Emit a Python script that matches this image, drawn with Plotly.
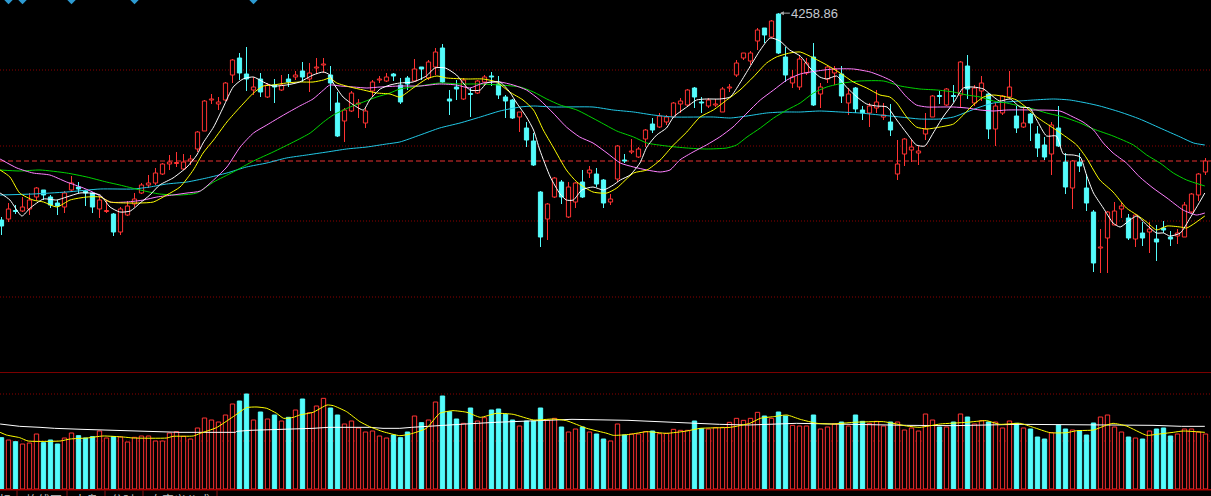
import plotly.graph_objects as go

# ---------------- data ----------------
opens = [
    4052, 4053, 4061.5, 4061, 4063, 4075, 4082, 4075, 4069, 4065,
    4082, 4085, 4081, 4079, 4063, 4060.5, 4058, 4040, 4057, 4068,
    4079, 4087, 4089, 4098, 4108, 4108.5, 4103, 4111, 4123, 4141,
    4172, 4168, 4172, 4197, 4214, 4198, 4182, 4193, 4175, 4187,
    4182, 4193, 4195, 4201, 4193, 4204, 4207, 4197, 4169, 4151,
    4161, 4168, 4149, 4181, 4192, 4191, 4198, 4187, 4194, 4191,
    4205, 4194, 4205, 4224, 4173, 4185, 4173, 4178.5, 4179, 4190,
    4196, 4188, 4175, 4172, 4155, 4144, 4131, 4080, 4053, 4075,
    4090, 4055, 4070, 4090, 4099, 4098, 4092, 4070, 4093, 4112,
    4120, 4115, 4133, 4148, 4145, 4150, 4155, 4168, 4167, 4184,
    4170, 4166, 4167, 4160, 4184, 4197, 4214, 4211, 4231, 4244,
    4235, 4258, 4215, 4189, 4185, 4199, 4215, 4178, 4193, 4199,
    4198, 4169, 4184, 4162, 4159, 4164, 4155, 4150, 4098, 4118,
    4122, 4119, 4138, 4155, 4176.5, 4167, 4176.5, 4177, 4206, 4169,
    4181, 4178, 4143, 4159, 4175, 4156, 4145, 4158, 4138, 4127,
    4118, 4144, 4110, 4084, 4110, 4084, 4060, 4024, 4034, 4047,
    4063, 4054, 4033, 4039, 4040, 4033, 4044, 4035, 4036, 4035,
    4060, 4077, 4100]
highs = [
    4055, 4069, 4067, 4075, 4079, 4085, 4082, 4077, 4072, 4081,
    4096, 4090, 4082, 4080, 4076, 4072, 4059, 4065, 4071, 4079,
    4089, 4097, 4104, 4109, 4117, 4120, 4118, 4117, 4141, 4172,
    4178, 4175, 4190, 4213, 4219, 4225, 4195, 4199, 4189, 4193,
    4197, 4198, 4201, 4210, 4209, 4214, 4214, 4206, 4180, 4164,
    4181, 4173, 4165, 4192, 4196, 4199, 4199, 4194, 4196, 4213,
    4205, 4212, 4224, 4228, 4182, 4192, 4194, 4184, 4192, 4197,
    4200, 4196, 4177, 4173, 4160, 4150, 4139, 4081, 4069, 4095,
    4092, 4090, 4090, 4102, 4106, 4104, 4093, 4078, 4127, 4118,
    4133, 4125, 4143, 4154, 4159, 4157, 4170, 4174, 4183, 4185,
    4175, 4174, 4173, 4185, 4188, 4212, 4219, 4221, 4244, 4244,
    4252, 4258.86, 4225, 4202, 4217, 4214, 4229, 4189, 4206, 4206,
    4206, 4184, 4185, 4166, 4169, 4182, 4169, 4168, 4132, 4134,
    4133, 4126, 4159, 4177, 4181, 4184, 4187, 4211, 4217, 4187,
    4196, 4179, 4169, 4177, 4201, 4166, 4164, 4159, 4146, 4135,
    4150, 4166, 4119, 4112, 4119, 4098, 4062, 4043, 4061, 4070,
    4070, 4058, 4058, 4050, 4050, 4047, 4051, 4041, 4043, 4070,
    4079, 4099, 4114]
lows = [
    4037, 4050, 4058, 4060, 4057, 4072, 4072, 4064, 4057, 4059,
    4080, 4079, 4066, 4059, 4054, 4059, 4036, 4037, 4056, 4065,
    4078, 4084, 4087, 4097, 4102, 4105, 4102, 4107, 4120, 4141,
    4168, 4162, 4171, 4189, 4192, 4181, 4177, 4175, 4174, 4169,
    4181, 4185, 4192, 4190, 4180, 4198, 4199, 4161, 4135, 4130,
    4160, 4154, 4144, 4175, 4189, 4190, 4191, 4168, 4182, 4190,
    4192, 4192, 4197, 4189, 4157, 4172, 4172, 4155, 4178, 4186,
    4186, 4173, 4154, 4153, 4140, 4125, 4106, 4025, 4032, 4074,
    4068, 4054, 4064, 4074, 4094, 4085, 4064, 4067, 4090, 4109,
    4118, 4114, 4125, 4139, 4144, 4147, 4155, 4159, 4166, 4164,
    4159, 4164, 4165, 4160, 4180, 4195, 4212, 4207, 4222, 4229,
    4234, 4218, 4190, 4184, 4182, 4197, 4166, 4164, 4189, 4187,
    4169, 4157, 4159, 4152, 4145, 4159, 4152, 4136, 4092, 4106,
    4110, 4107, 4132, 4155, 4168, 4166, 4170, 4164, 4173, 4166,
    4171, 4133, 4126, 4157, 4173, 4139, 4144, 4131, 4115, 4112,
    4097, 4125, 4078, 4063, 4100, 4061, 4000, 3999, 3999, 4047,
    4054, 4032, 4025, 4026, 4019, 4011, 4039, 4026, 4028, 4035,
    4059, 4071, 4097]
closes = [
    4046, 4063, 4060.5, 4065, 4072, 4084, 4077, 4067, 4066, 4079,
    4089, 4083, 4079, 4065, 4072, 4061.5, 4040, 4063, 4066, 4073,
    4087, 4089, 4099, 4108, 4110, 4109.5, 4110, 4113, 4140, 4171,
    4173, 4170, 4189, 4212, 4199, 4193, 4185, 4180, 4187, 4185,
    4187, 4190, 4197, 4195, 4199, 4205, 4208, 4189, 4136, 4162,
    4179, 4169, 4161, 4190, 4193, 4195, 4196, 4170, 4188, 4203,
    4203, 4210, 4220, 4190, 4171, 4183, 4192, 4177.5, 4191, 4195,
    4195, 4177, 4171, 4154, 4160, 4132, 4107, 4035, 4068, 4094,
    4075, 4085, 4089, 4075, 4102, 4088, 4069, 4073, 4126, 4111,
    4121, 4123, 4142, 4142, 4156, 4155, 4169, 4171, 4182, 4175,
    4169, 4172, 4168, 4183, 4185, 4209, 4219, 4219, 4242, 4237,
    4251, 4219, 4197, 4195, 4213, 4209, 4167, 4185, 4205, 4203,
    4176, 4178, 4163, 4159, 4166, 4170, 4157, 4142, 4108, 4133,
    4125, 4121, 4143, 4176, 4175.5, 4183, 4175.5, 4210, 4183, 4184,
    4189, 4143, 4166, 4176, 4185, 4144, 4149, 4149, 4124, 4115,
    4147, 4126, 4085, 4111, 4106, 4069, 4009, 4025, 4060, 4061,
    4066, 4034, 4057, 4034, 4043, 4030, 4042, 4033, 4039, 4067,
    4078, 4098, 4111]
volumes = [
    154, 147, 142, 135, 138, 165, 139, 147, 135, 153,
    168, 160, 153, 157, 174, 153, 157, 156, 141, 155,
    159, 159, 144, 144, 168, 172, 158, 150, 183, 213,
    207, 201, 222, 255, 264, 285, 207, 231, 210, 222,
    204, 215, 237, 270, 229, 249, 272, 243, 222, 195,
    204, 183, 171, 174, 159, 153, 162, 154, 171, 219,
    199, 207, 261, 279, 232, 210, 197, 243, 204, 214,
    237, 240, 224, 207, 189, 204, 204, 243, 207, 212,
    186, 171, 180, 186, 171, 165, 150, 144, 195, 162,
    165, 165, 172, 174, 166, 167, 179, 176, 176, 204,
    181, 180, 184, 185, 200, 212, 206, 212, 230, 219,
    212, 231, 219, 191, 189, 189, 222, 180, 186, 195,
    201, 189, 222, 203, 197, 203, 189, 201, 201, 177,
    183, 174, 225, 207, 186, 186, 201, 225, 216, 195,
    205, 201, 201, 183, 204, 197, 183, 180, 156, 150,
    169, 192, 180, 177, 174, 162, 198, 216, 222, 186,
    171, 156, 153, 150, 174, 180, 183, 159, 165, 180,
    180, 171, 165]

# moving-average lines, read as knots (candle index, price)
ma5_x = [-0.2, 1.2, 2.9, 4.1, 6.0, 7.9, 9.3, 11.2, 12.6, 14.1, 15.5, 16.9, 18.4, 19.8, 21.2, 22.6,
         24.5, 26.5, 27.9, 28.8, 30.3, 31.7, 33.1, 34.5, 36.0, 37.4, 38.8, 40.7, 42.6, 44.5, 46.0,
         46.9, 47.4, 48.8, 50.3, 51.7, 52.6, 54.1, 55.5, 56.9, 58.8, 60.7, 61.9, 63.4, 65.0, 66.9,
         68.4, 69.3, 71.2, 72.6, 73.6, 75.0, 76.0, 76.9, 78.4, 79.8, 80.7, 81.7, 82.9, 84.5, 86.0,
         87.4, 88.4, 89.8, 91.2, 92.2, 93.6, 95.0, 96.0, 97.9, 99.3, 100.7, 102.6, 104.1, 105.5,
         106.9, 108.4, 109.8, 111.2, 112.6, 114.1, 115.5, 116.9, 117.9, 119.3, 120.7, 122.2, 123.6,
         125.0, 126.5, 127.9, 129.3, 130.7, 131.9, 133.1, 134.5, 136.0, 137.4, 138.8, 140.3, 141.2,
         142.6, 144.1, 145.5, 146.9, 147.9, 149.3, 150.7, 151.7, 153.1, 154.1, 155.0, 156.0, 157.4,
         158.8, 159.8, 161.2, 162.2, 163.6, 165.0, 166.0, 166.9, 168.4, 169.8, 171.0, 171.9]
ma5 = [4079, 4072, 4056, 4064, 4073, 4072, 4075, 4079, 4079, 4077, 4065, 4060, 4061, 4069, 4077, 4087,
       4094, 4105, 4117, 4129, 4145, 4165, 4185, 4193, 4195, 4190, 4186, 4187, 4190, 4197, 4200,
       4197, 4189, 4175, 4167, 4162, 4172, 4183, 4187, 4189, 4190, 4196, 4204, 4204, 4197, 4182,
       4182, 4189, 4190, 4180, 4169, 4155, 4142, 4122, 4095, 4078, 4072, 4072, 4082, 4085, 4082,
       4087, 4092, 4097, 4109, 4125, 4137, 4144, 4155, 4165, 4172, 4173, 4173, 4175, 4189,
       4205, 4222, 4234, 4231, 4222, 4216, 4204, 4195, 4193, 4196, 4185, 4175, 4168,
       4166, 4165, 4152, 4139, 4127, 4126, 4139, 4155, 4169, 4184, 4185, 4183, 4178,
       4171, 4173, 4165, 4164, 4152, 4136, 4136, 4118, 4117, 4115, 4097, 4079, 4064,
       4049, 4045, 4052, 4056, 4047, 4039, 4039, 4036, 4039, 4054, 4068, 4079]

ma10_x = [-0.2, 1.2, 2.6, 4.5, 6.0, 7.9, 9.8, 12.2, 14.1, 15.5, 17.9, 19.8, 21.7, 23.6, 25.5, 27.4,
          28.8, 30.3, 32.2, 34.1, 36.0, 37.4, 38.8, 40.7, 42.6, 44.5, 46.0, 46.9, 47.9, 49.8, 51.7,
          53.6, 55.5, 56.9, 58.8, 60.7, 62.2, 63.6, 66.5, 68.8, 70.7, 72.6, 74.5, 76.0, 77.4, 78.8,
          80.7, 82.2, 84.5, 86.5, 87.9, 90.3, 92.2, 94.1, 96.0, 97.9, 99.8, 101.7, 103.6, 105.5,
          107.4, 109.3, 110.7, 112.6, 114.1, 116.0, 117.9, 119.8, 121.7, 123.6, 125.5, 126.9, 127.9,
          129.3, 130.7, 132.2, 134.1, 136.0, 137.4, 138.8, 140.3, 141.7, 143.6, 145.0, 146.5, 147.9,
          149.8, 151.7, 153.6, 155.0, 156.0, 156.9, 158.8, 160.7, 162.2, 163.6, 165.0, 166.5, 168.4,
          169.3, 170.3, 171.9]
ma10 = [4102, 4095, 4079, 4072, 4070, 4065, 4072, 4075, 4075, 4070, 4069, 4069, 4070, 4077, 4085, 4102,
        4119, 4132, 4150, 4165, 4179, 4186, 4187, 4189, 4190, 4190, 4192, 4194, 4189, 4185, 4182,
        4179, 4178, 4175, 4184, 4193, 4196, 4194, 4193, 4193, 4190, 4180, 4172, 4162, 4142, 4125,
        4102, 4090, 4080, 4079, 4084, 4099, 4102, 4112, 4127, 4140, 4155, 4162, 4172, 4182,
        4195, 4209, 4215, 4219, 4220, 4214, 4207, 4199, 4190, 4184, 4177, 4175, 4169,
        4155, 4145, 4143, 4145, 4148, 4157, 4167, 4175, 4177, 4175, 4172, 4164, 4155,
        4146, 4137, 4127, 4114, 4102, 4092, 4080, 4064, 4057, 4050, 4042, 4046, 4045,
        4044, 4048, 4056]

ma20_x = [-0.2, 2.2, 4.5, 6.9, 9.3, 11.7, 13.6, 15.5, 17.9, 20.3, 22.2, 24.5, 26.5, 28.4, 30.3, 32.2,
          34.1, 36.0, 37.9, 40.3, 42.6, 44.5, 46.0, 46.9, 48.4, 50.3, 52.2, 54.1, 56.9, 59.8, 62.6,
          65.0, 66.9, 68.8, 71.2, 73.1, 75.0, 76.9, 78.8, 80.7, 82.6, 84.5, 86.5, 88.4, 90.3, 92.2,
          94.1, 95.5, 96.9, 98.8, 100.7, 102.6, 104.5, 106.5, 108.4, 110.3, 112.2, 114.1, 116.5,
          118.8, 121.7, 124.1, 126.0, 127.4, 129.3, 130.7, 132.2, 134.1, 136.0, 137.9, 139.8, 141.7,
          143.6, 147.4, 151.2, 153.1, 154.5, 156.0, 157.4, 158.8, 160.7, 162.6, 164.5, 166.5, 168.8,
          170.7, 171.9]
ma20 = [4113, 4104, 4099, 4097, 4090, 4084, 4078, 4070, 4070, 4072, 4075, 4077, 4079, 4081, 4092, 4105,
        4125, 4139, 4147, 4157, 4166, 4173, 4182, 4187, 4186, 4185, 4184, 4185, 4186, 4186, 4188,
        4187, 4184, 4189, 4190, 4187, 4182, 4172, 4159, 4145, 4135, 4129, 4119, 4109, 4105, 4102,
        4100, 4102, 4112, 4120, 4127, 4135, 4145, 4159, 4172, 4182, 4192, 4198, 4201,
        4203, 4203, 4200, 4195, 4190, 4175, 4167, 4165, 4165, 4165, 4164, 4162, 4161,
        4162, 4162, 4161, 4155, 4150, 4142, 4129, 4119, 4109, 4095, 4084, 4074, 4062,
        4057, 4059]

ma30_x = [-0.2, 2.6, 5.5, 9.3, 12.2, 15.0, 16.9, 19.8, 22.6, 25.5, 27.9, 30.3, 33.1, 36.0, 38.8, 41.7,
          44.1, 46.0, 47.4, 49.8, 51.7, 53.6, 55.5, 56.9, 59.8, 62.6, 65.5, 68.4, 71.2, 74.1, 76.0,
          77.9, 79.8, 82.2, 85.5, 87.9, 90.3, 92.2, 95.0, 97.9, 100.7, 103.6, 105.0, 106.5, 108.4,
          110.3, 112.2, 114.1, 116.0, 117.9, 120.3, 122.6, 126.0, 128.4, 131.2, 133.6, 136.0, 137.9,
          139.8, 141.7, 143.6, 145.5, 147.4, 149.3, 151.7, 154.1, 156.0, 158.8, 161.7, 163.6, 165.5,
          167.4, 169.3, 171.9]
ma30 = [4102, 4101, 4102, 4099, 4095, 4090, 4087, 4082, 4078, 4077, 4079, 4090, 4100, 4111, 4120, 4130,
        4139, 4150, 4157, 4165, 4170, 4175, 4179, 4183, 4186, 4189, 4188, 4188, 4187, 4185, 4180,
        4173, 4167, 4162, 4150, 4141, 4135, 4129, 4126, 4124, 4123, 4124, 4127, 4135, 4144,
        4154, 4162, 4169, 4179, 4185, 4189, 4191, 4191, 4186, 4183, 4182, 4180, 4177,
        4175, 4171, 4169, 4166, 4163, 4159, 4155, 4149, 4143, 4136, 4127, 4117, 4109,
        4099, 4092, 4086]

ma60_x = [-0.2, 4.5, 9.3, 14.1, 18.8, 21.2, 23.6, 26.5, 29.3, 32.2, 35.0, 37.9, 40.7, 43.6, 46.5, 49.3,
          52.2, 55.0, 56.9, 59.8, 62.6, 65.5, 68.4, 71.2, 74.1, 76.0, 78.8, 84.5, 87.4, 90.3, 93.1,
          96.0, 101.7, 104.1, 106.5, 109.3, 111.7, 114.1, 116.9, 119.8, 122.6, 125.5, 128.4, 131.2,
          134.1, 136.0, 137.9, 139.8, 141.7, 143.6, 147.4, 150.3, 152.6, 155.0, 156.9, 159.8, 162.6,
          165.5, 168.4, 170.3, 171.9]
ma60 = [4077, 4078, 4080, 4083, 4083, 4085, 4088, 4090, 4094, 4099, 4105, 4109, 4114, 4117, 4120, 4123,
        4125, 4128, 4130, 4137, 4144, 4149, 4155, 4161, 4165, 4166, 4165, 4165, 4162, 4160, 4157,
        4155, 4155, 4154, 4156, 4159, 4160, 4160, 4161, 4160, 4159, 4157, 4155, 4153,
        4153, 4155, 4160, 4165, 4169, 4170, 4172, 4173, 4172, 4169, 4166, 4160, 4153,
        4144, 4135, 4129, 4127]

# volume averages (knots: candle index, volume)
vol_ma_short_x = [-0.2, 0.7, 2.6, 3.8, 8.4, 9.8, 12.2, 14.5, 17.4, 18.8, 23.6, 24.5, 27.4, 28.4, 30.7,
                  33.1, 35.0, 36.5, 37.9, 39.3, 40.3, 41.7, 42.6, 44.5, 46.5, 47.4, 49.3, 51.2, 52.6,
                  54.5, 56.9, 58.4, 60.7, 62.6, 64.5, 66.5, 68.4, 70.7, 73.1, 76.0, 78.8, 80.7, 83.6,
                  86.5, 87.4, 89.8, 92.2, 95.0, 97.9, 99.8, 104.1, 106.9, 108.4, 110.3, 112.2, 114.1,
                  116.5, 118.8, 121.7, 126.0, 129.3, 131.2, 134.1, 137.9, 140.7, 142.6, 145.5, 147.4,
                  149.8, 152.2, 153.6, 156.0, 157.9, 158.8, 160.7, 163.6, 165.0, 167.4, 168.8, 171.9]
vol_ma_short = [170, 162, 154, 144, 144, 150, 153, 159, 156, 153, 153, 158, 159, 167, 184,
                217, 244, 246, 242, 227, 212, 215, 222, 230, 252, 250, 232, 202, 187,
                172, 160, 165, 182, 227, 235, 230, 215, 227, 224, 207, 210, 205, 182,
                167, 161, 164, 172, 167, 174, 182, 185, 197, 212, 217, 222, 209,
                197, 195, 200, 202, 189, 185, 195, 200, 205, 194, 197, 185,
                169, 169, 175, 177, 192, 197, 189, 161, 164, 170, 174, 170]
vol_ma_long_x = [-0.2, 1.7, 2.6, 5.5, 7.6, 11.5, 16.5, 19.5, 25.5, 33.4, 33.6, 35.5, 40.5, 44.5, 46.7,
                 52.6, 54.5, 56.9, 58.6, 61.5, 62.6, 65.5, 70.5, 74.6, 81.5, 89.5, 92.6, 94.5, 98.6,
                 102.6, 106.7, 110.0, 113.6, 129.3, 136.0, 145.5, 164.5, 168.6, 171.9]
vol_ma_long = [195, 191, 188, 185, 182, 179, 176, 173, 170, 170, 173, 176, 179, 182, 185,
               185, 182, 182, 185, 188, 191, 194, 200, 203, 209, 206, 203, 200, 197,
               194, 192, 194, 197, 191, 190, 194, 191, 188, 188]

signal_idx = [1, 3, 10, 19, 36]          # blue diamonds along the top edge
grid_levels = [4202, 4126, 4051, 3975]   # dotted price levels
ref_level = 4111                         # dashed reference level
vol_grid = [285, 144]
tab_labels = ["标", "均线图", "大盘", "分时", "自定义公式"]
tab_centers = [5, 44, 86, 123, 180]      # px
tab_seps = [17, 67, 105, 143, 217]       # px

RED = "#ff3232"
CYAN = "#54fcfc"
W, H = 1211, 496
n = len(closes)
idx = list(range(n))
is_up = [c >= o for o, c in zip(opens, closes)]

fig = go.Figure()

# volume bars
for up, fill in ((True, "#000000"), (False, CYAN)):
    xs = [i for i in idx if is_up[i] == up]
    fig.add_trace(go.Bar(x=xs, y=[volumes[i] for i in xs], width=0.62,
                         marker=dict(color=fill, line=dict(color=RED if up else CYAN, width=1)),
                         yaxis="y2", hoverinfo="skip"))

# candle bodies
for up, fill in ((True, "#000000"), (False, CYAN)):
    xs = [i for i in idx if is_up[i] == up]
    fig.add_trace(go.Bar(x=xs,
                         y=[max(abs(closes[i] - opens[i]), 0.6) for i in xs],
                         base=[min(opens[i], closes[i]) for i in xs], width=0.6,
                         marker=dict(color=fill, line=dict(color=RED if up else CYAN, width=1)),
                         yaxis="y", hoverinfo="skip"))

# wicks (above and below the body)
for up, col in ((True, RED), (False, CYAN)):
    wx, wy = [], []
    for i in idx:
        if is_up[i] != up:
            continue
        top, bot = max(opens[i], closes[i]), min(opens[i], closes[i])
        wx += [i, i, None, i, i, None]
        wy += [highs[i], top, None, bot, lows[i], None]
    fig.add_trace(go.Scatter(x=wx, y=wy, mode="lines", line=dict(color=col, width=1),
                             yaxis="y", hoverinfo="skip"))

# price moving averages
for xs, ys, col in ((ma60_x, ma60, "#22c8e6"), (ma30_x, ma30, "#00d400"),
                    (ma20_x, ma20, "#ff80ff"), (ma10_x, ma10, "#ffff00"),
                    (ma5_x, ma5, "#ffffff")):
    fig.add_trace(go.Scatter(x=xs, y=ys, mode="lines", yaxis="y", hoverinfo="skip",
                             line=dict(color=col, width=1, shape="spline", smoothing=0.6)))

# volume moving averages
fig.add_trace(go.Scatter(x=vol_ma_long_x, y=vol_ma_long, mode="lines", yaxis="y2",
                         line=dict(color="#ffffff", width=1), hoverinfo="skip"))
fig.add_trace(go.Scatter(x=vol_ma_short_x, y=vol_ma_short, mode="lines", yaxis="y2",
                         line=dict(color="#ffff00", width=1, shape="spline", smoothing=0.5),
                         hoverinfo="skip"))

# signal diamonds, half hidden by the top edge
fig.add_trace(go.Scatter(x=signal_idx, y=[4273] * len(signal_idx), mode="markers", yaxis="y",
                         marker=dict(symbol="diamond", size=8, color="#2d9bd2"), hoverinfo="skip"))

shapes = []
for lv in grid_levels:
    shapes.append(dict(type="line", xref="paper", x0=0, x1=1, yref="y", y0=lv, y1=lv,
                       line=dict(color="#8c0000", width=1, dash="1px,2px"), layer="below"))
shapes.append(dict(type="line", xref="paper", x0=0, x1=1, yref="y", y0=ref_level, y1=ref_level,
                   line=dict(color="#e83030", width=1, dash="5px,3px"), layer="below"))
for lv in vol_grid:
    shapes.append(dict(type="line", xref="paper", x0=0, x1=1, yref="y2", y0=lv, y1=lv,
                       line=dict(color="#8c0000", width=1, dash="1px,2px"), layer="below"))
# panel separators
shapes.append(dict(type="line", xref="paper", x0=0, x1=1, yref="paper",
                   y0=1 - 372.5 / H, y1=1 - 372.5 / H, line=dict(color="#7a0000", width=1)))
shapes.append(dict(type="line", xref="paper", x0=0, x1=1, yref="paper",
                   y0=1 - 489.8 / H, y1=1 - 489.8 / H, line=dict(color="#b00000", width=1.5)))
for px in tab_seps:
    shapes.append(dict(type="line", xref="paper", x0=px / W, x1=px / W, yref="paper",
                       y0=0, y1=1 - 490.5 / H, line=dict(color="#8a1010", width=1)))

annotations = [dict(x=111.2, y=max(highs), xref="x", yref="y", text=f"{max(highs):.2f}",
                    showarrow=True, ax=35, ay=0, arrowhead=2, arrowsize=0.8, arrowwidth=1,
                    arrowcolor="#a8a8a8", standoff=0,
                    font=dict(family="Arial, Liberation Sans", size=13, color="#c4c8d0"))]
# bottom tab strip: only the top of the labels is inside the window, as in the source
for lab, cx in zip(tab_labels, tab_centers):
    annotations.append(dict(x=cx / W, y=1 - 488.5 / H, xref="paper", yref="paper", text=lab,
                            showarrow=False, xanchor="center", yanchor="top",
                            font=dict(family="Noto Sans CJK SC", size=12, color="#bdbdbd")))

fig.update_layout(
    width=W, height=H, margin=dict(l=0, r=0, t=0, b=0),
    paper_bgcolor="#000000", plot_bgcolor="#000000",
    showlegend=False, barmode="overlay", hovermode=False,
    xaxis=dict(range=[-1.5 / 7, (W - 1.5) / 7], visible=False, fixedrange=True),
    yaxis=dict(domain=[0.25, 1], range=[3900, 4272], visible=False, fixedrange=True),
    yaxis2=dict(domain=[1 - 489 / H, 1 - 373 / H], range=[0, 348], visible=False,
                anchor="x", fixedrange=True),
    shapes=shapes, annotations=annotations,
)

# page has no body margin so the chart sits flush with the window
fig.write_html("out.html", config={"displayModeBar": False},
               post_script="document.body.style.margin='0';document.body.style.background='#000';")
